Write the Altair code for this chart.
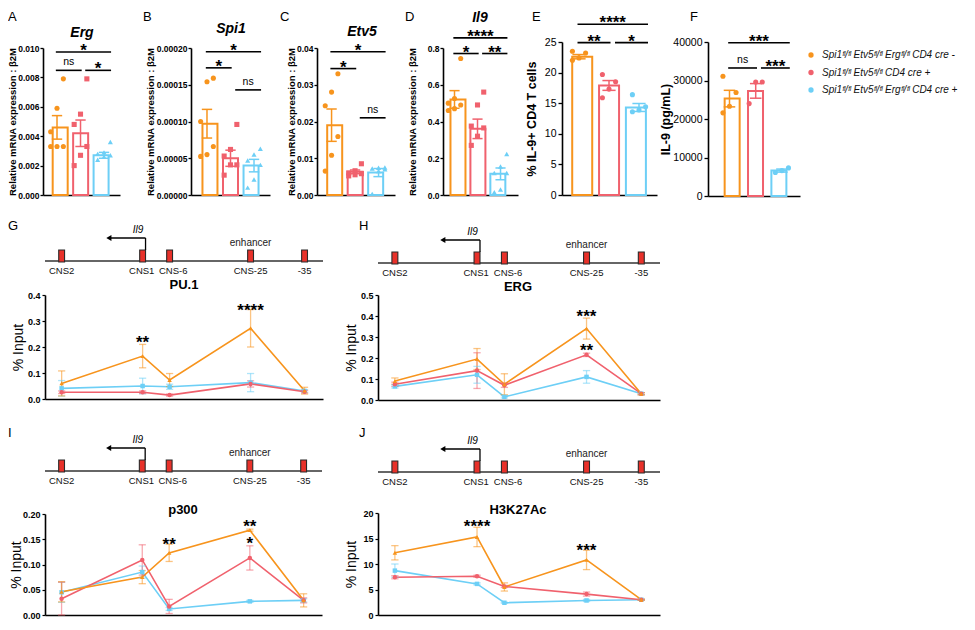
import altair as alt
import pandas as pd

# ----------------------------- data -----------------------------
GROUPS = ["ctl", "dko", "tko"]
COLORS = ["#F7941D", "#F0616D", "#6DCFF6"]
SUP = "ᶠˡ/ᶠˡ"
LEGEND_LABELS = [
    f"Spi1{SUP} Etv5{SUP} Erg{SUP} CD4 cre -",
    f"Spi1{SUP} Etv5{SUP} CD4 cre +",
    f"Spi1{SUP} Etv5{SUP} Erg{SUP} CD4 cre +",
]

YT_REL = "Relative mRNA expression : β2M"
YT_E = "% IL-9+ CD4 T cells"
YT_F = "IL-9 (pg/mL)"
YT_LINE = "% Input"

# A  Erg
ERG_CTL = [0.0079, 0.0059, 0.0043, 0.0033, 0.0033, 0.0033]
ERG_DKO = [0.0079, 0.0055, 0.0048, 0.0033, 0.0027, 0.0020]
ERG_TKO = [0.0036, 0.0029, 0.0028, 0.0027, 0.0026, 0.0024]
ERG_MEAN = [0.0046, 0.0042, 0.0027]
ERG_SEM = [0.0008, 0.0009, 0.0002]
ERG_BR = [(1, 2, 0.00848, "ns"), (2, 3, 0.00848, "*"), (1, 3, 0.00973, "*")]
# B  Spi1
SPI_CTL = [1.59e-4, 1.54e-4, 1.00e-4, 6.6e-5, 5.5e-5, 5.25e-5]
SPI_DKO = [9.6e-5, 6.2e-5, 5.3e-5, 4.1e-5, 4.1e-5, 2.7e-5]
SPI_TKO = [6.3e-5, 5.5e-5, 4.7e-5, 4.1e-5, 2.1e-5, 1.0e-5]
SPI_MEAN = [9.7e-5, 5.0e-5, 4.0e-5]
SPI_SEM = [1.95e-5, 1.1e-5, 0.85e-5]
SPI_BR = [(1, 2, 1.73e-4, "*"), (2, 3, 1.43e-4, "ns"), (1, 3, 1.95e-4, "*")]
# C  Etv5
ETV_CTL = [0.033, 0.028, 0.0243, 0.0159, 0.0108, 0.0065]
ETV_DKO = [0.0085, 0.0066, 0.0060, 0.0058, 0.0055, 0.0052]
ETV_TKO = [0.0075, 0.0074, 0.0072, 0.0070, 0.0065, 0.0003]
ETV_MEAN = [0.019, 0.0063, 0.0061]
ETV_SEM = [0.0044, 0.0005, 0.0011]
ETV_BR = [(1, 2, 0.0344, "*"), (2, 3, 0.021, "ns"), (1, 3, 0.039, "*")]
# D  Il9
IL9_CTL = [0.743, 0.525, 0.50, 0.49, 0.47, 0.46]
IL9_DKO = [0.56, 0.49, 0.375, 0.365, 0.32, 0.27]
IL9_TKO = [0.223, 0.155, 0.12, 0.12, 0.03, 0.015]
IL9_MEAN = [0.52, 0.36, 0.115]
IL9_SEM = [0.048, 0.053, 0.032]
IL9_BR = [(1, 2, 0.77, "*"), (2, 3, 0.77, "**"), (1, 3, 0.855, "****")]
# E  % IL-9+ CD4 T cells
PCT_CTL = [23.5, 23.2, 22.4, 22.0]
PCT_DKO = [19.7, 18.5, 17.3, 15.9]
PCT_TKO = [16.4, 14.4, 13.9, 13.6]
PCT_MEAN = [22.6, 17.9, 14.3]
PCT_SEM = [0.35, 0.8, 0.65]
PCT_BR = [(1, 2, 24.9, "**"), (2, 3, 24.9, "*"), (1, 3, 27.9, "****")]
# F  IL-9 (pg/mL)
PG_CTL = [31100, 26900, 23300, 21600]
PG_DKO = [29600, 29600, 24000]
PG_TKO = [7300, 6600, 6100]
PG_MEAN = [25300, 27300, 6600]
PG_SEM = [2150, 1900, 400]
PG_BR = [(1, 2, 33250, "ns"), (2, 3, 33250, "***"), (1, 3, 39800, "***")]

# ChIP panels
LOCI = ["CNS2", "CNS1", "CNS-6", "CNS-25", "-35"]
LOCUS_KB = [-18, 0, 6, 24, 36]

PU1_CTL = [0.060, 0.165, 0.073, 0.272, 0.032]
PU1_CTL_SEM = [0.048, 0.045, 0.025, 0.072, 0.013]
PU1_DKO = [0.026, 0.026, 0.015, 0.058, 0.028]
PU1_DKO_SEM = [0.005, 0.005, 0.004, 0.012, 0.005]
PU1_TKO = [0.041, 0.050, 0.047, 0.063, 0.031]
PU1_TKO_SEM = [0.030, 0.030, 0.010, 0.035, 0.005]
PU1_STARS = [(1, 0.235, "**"), (3, 0.358, "****")]

ERGC_CTL = [0.090, 0.195, 0.075, 0.340, 0.030]
ERGC_CTL_SEM = [0.015, 0.050, 0.050, 0.050, 0.005]
ERGC_DKO = [0.075, 0.140, 0.070, 0.215, 0.030]
ERGC_DKO_SEM = [0.010, 0.085, 0.010, 0.008, 0.005]
ERGC_TKO = [0.065, 0.120, 0.015, 0.110, 0.030]
ERGC_TKO_SEM = [0.008, 0.040, 0.005, 0.030, 0.005]
ERGC_STARS = [(3, 0.42, "***"), (3, 0.257, "**")]

P300_CTL = [0.046, 0.075, 0.123, 0.168, 0.029]
P300_CTL_SEM = [0.020, 0.013, 0.017, 0.002, 0.013]
P300_DKO = [0.032, 0.109, 0.017, 0.113, 0.029]
P300_DKO_SEM = [0.033, 0.030, 0.014, 0.024, 0.005]
P300_TKO = [0.045, 0.085, 0.012, 0.027, 0.029]
P300_TKO_SEM = [0.020, 0.012, 0.003, 0.002, 0.003]
P300_STARS = [(2, 0.148, "**"), (3, 0.185, "**"), (3, 0.150, "*")]

K27_CTL = [12.2, 15.3, 5.5, 10.8, 3.0]
K27_CTL_SEM = [1.4, 1.9, 0.8, 1.9, 0.1]
K27_DKO = [7.4, 7.6, 5.6, 4.1, 3.0]
K27_DKO_SEM = [0.3, 0.2, 0.2, 0.4, 0.1]
K27_TKO = [8.7, 6.1, 2.4, 2.85, 3.0]
K27_TKO_SEM = [1.3, 0.2, 0.1, 0.2, 0.1]
K27_STARS = [(1, 18.3, "****"), (3, 13.6, "***")]

# ----------------------------- style / layout -----------------------------
W, H = 959, 612
M = 8


def X(p):
    return p - M


def Y(p):
    return p - M


FONT = "'Liberation Sans', Arial, Helvetica, sans-serif"
COLOR = alt.Color("group:N", scale=alt.Scale(domain=GROUPS, range=COLORS), legend=None)
JIT = [-1, 0, 1]
LABEL_SHIFT = {"CNS1": -0.2, "CNS-6": 0.8}  # small horizontal nudges of locus labels (kb)

BAR_LAYOUT = {
    "A": dict(x0=43, x1=120, ytop=48, ybot=195, xdom=(0.404, 3.68), bw=15, jit=0.27, tX=-26, letter=(8, 17), gene=(82, 33), small=True),
    "B": dict(x0=191, x1=270, ytop=48, ybot=195, xdom=(0.32, 3.68), bw=15, jit=0.27, tX=-36, letter=(143, 17), gene=(231, 29), small=True),
    "C": dict(x0=317, x1=395, ytop=48, ybot=195, xdom=(0.38, 3.70), bw=15, jit=0.27, tX=-21, letter=(280, 17), gene=(362, 32), small=True),
    "D": dict(x0=443, x1=518, ytop=48, ybot=195, xdom=(0.50, 3.76), bw=15, jit=0.27, tX=-26, letter=(405, 17), gene=(480, 18), small=True),
    "E": dict(x0=562, x1=657, ytop=42, ybot=195, xdom=(0.433, 3.6), bw=20, jit=0.22, tX=-24, letter=(532, 17), gene=None, small=False),
    "F": dict(x0=708, x1=800, ytop=42, ybot=196, xdom=(0.18, 3.69), bw=15, jit=0.25, tX=-36, letter=(690, 17), gene=None, small=False),
}

LINE_XDOM = (-21.7, 40.1)
LINE_LAYOUT = {
    "G": dict(x0=45, x1=323, ytop=295, ybot=399, dy=0, tX=-20, letter=(8, 226), title=(184, 285)),
    "H": dict(x0=378, x1=660, ytop=295, ybot=400, dy=2, tX=-20, letter=(359, 226), title=(518, 287)),
    "I": dict(x0=45, x1=322, ytop=514, ybot=615, dy=210, tX=-22, letter=(8, 433), title=(183, 510)),
    "J": dict(x0=378, x1=660, ytop=513, ybot=615, dy=211, tX=-20, letter=(359, 433), title=(518, 510)),
}


def text_chart(txt, x, y, **kw):
    return alt.Chart(pd.DataFrame({"t": [txt]})).mark_text(**kw).encode(
        text="t:N", x=alt.value(X(x)), y=alt.value(Y(y))
    )


def bar_panel(key, gene, ytitle, ymax, ticks, fmt, pts_lists, means, sems, brackets, shapes):
    L = BAR_LAYOUT[key]
    rows = []
    for gi, (g, vals) in enumerate(zip(GROUPS, pts_lists), start=1):
        order = sorted(range(len(vals)), key=lambda k: vals[k])
        for rank, k in enumerate(order):
            rows.append(dict(group=g, gx=gi + JIT[rank % 3] * L["jit"], value=vals[k]))
    pts = pd.DataFrame(rows)
    stats = pd.DataFrame(dict(group=GROUPS, gx=[1, 2, 3], mean=means, sem=sems))
    stats["lo"] = stats["mean"] - stats["sem"]
    stats["hi"] = stats["mean"] + stats["sem"]
    caps = []
    for _, r in stats.iterrows():
        for v in (r["lo"], r["hi"]):
            caps.append(dict(group=r["group"], xa=r["gx"] - 0.22, xb=r["gx"] + 0.22, yv=v))
    caps = pd.DataFrame(caps)
    br = []
    for a, b, yv, lab in brackets:
        if a == 1 and b == 3:
            x1, x2 = a - 0.05, b + 0.3
        elif a == 1:
            x1, x2 = a - 0.05, b + 0.05
        else:
            x1, x2 = a + 0.2, b + 0.3
        br.append(dict(x1=x1, x2=x2, xm=(x1 + x2) / 2, y=yv, label=lab))
    br = pd.DataFrame(br)

    xsc = alt.Scale(domain=list(L["xdom"]), range=[X(L["x0"]), X(L["x1"])], nice=False, zero=False)
    ysc = alt.Scale(domain=[0, ymax], range=[Y(L["ybot"]), Y(L["ytop"])], nice=False, zero=True)
    xax = alt.Axis(orient="bottom", offset=Y(L["ybot"]) - H, labels=False, ticks=False, title=None,
                   domainWidth=1.6, domainColor="black")
    if L["small"]:
        lab = dict(labelFont=FONT, labelFontSize=8.5, labelFontWeight="bold", tickSize=3, labelPadding=1,
                   titleFont=FONT, titleFontSize=9.5, titleFontWeight="bold")
    else:
        lab = dict(labelFont=FONT, labelFontSize=10.5, labelFontWeight="normal", tickSize=4, labelPadding=2,
                   titleFont=FONT, titleFontSize=12.5, titleFontWeight="bold")
    yax = alt.Axis(orient="left", offset=-X(L["x0"]), values=ticks, format=fmt, title=ytitle,
                   titleX=L["tX"], titleBaseline="bottom", tickWidth=1.3, domainWidth=1.6,
                   labelOverlap=False, domainColor="black", tickColor="black", **lab)

    XE = lambda f: alt.X(f, scale=xsc, axis=None)
    YE = lambda f: alt.Y(f, scale=ysc, axis=None)
    bars = alt.Chart(stats).mark_bar(orient="vertical", size=L["bw"], filled=False, strokeWidth=2).encode(
        x=alt.X("gx:Q", scale=xsc, axis=xax), y=alt.Y("mean:Q", scale=ysc, axis=yax), color=COLOR)
    dots = alt.Chart(pts).mark_point(filled=True, size=26, opacity=1).encode(
        x=XE("gx:Q"), y=YE("value:Q"), color=COLOR,
        shape=alt.Shape("group:N", scale=alt.Scale(domain=GROUPS, range=shapes), legend=None))
    err = alt.Chart(stats).mark_rule(strokeWidth=1.5).encode(x=XE("gx:Q"), y=YE("lo:Q"), y2="hi:Q", color=COLOR)
    cap = alt.Chart(caps).mark_rule(strokeWidth=1.5).encode(x=XE("xa:Q"), x2="xb:Q", y=YE("yv:Q"), color=COLOR)
    brl = alt.Chart(br).mark_rule(strokeWidth=1.6, color="black").encode(x=XE("x1:Q"), x2="x2:Q", y=YE("y:Q"))
    stars = alt.Chart(br).transform_filter(alt.datum.label != "ns").mark_text(
        font=FONT, fontSize=17, fontWeight="bold", baseline="alphabetic", dy=4, color="black").encode(
        x=XE("xm:Q"), y=YE("y:Q"), text="label:N")
    ns = alt.Chart(br).transform_filter(alt.datum.label == "ns").mark_text(
        font=FONT, fontSize=10.5, baseline="bottom", dy=-3, color="black").encode(
        x=XE("xm:Q"), y=YE("y:Q"), text="label:N")
    out = [bars, dots, err, cap, brl, stars, ns]
    out.append(text_chart(key, L["letter"][0], L["letter"][1], font=FONT, fontSize=13, align="left", baseline="middle"))
    if gene:
        out.append(text_chart(gene, L["gene"][0], L["gene"][1], font=FONT, fontSize=14, fontWeight="bold",
                              fontStyle="italic", align="center", baseline="middle"))
    return out


def line_panel(key, title, ymax, ticks, fmt, vals, sems, stars):
    L = LINE_LAYOUT[key]
    dy = L["dy"]
    rows = []
    # tko first, ctl last so that the orange series is drawn on top
    for g, vv, ss in reversed(list(zip(GROUPS, vals, sems))):
        for name, pos, v, s in zip(LOCI, LOCUS_KB, vv, ss):
            rows.append(dict(group=g, locus=name, pos=pos, val=v, lo=max(v - s, 0), hi=v + s,
                             xa=pos - 0.8, xb=pos + 0.8))
    df = pd.DataFrame(rows)
    caps = pd.concat([df.assign(yv=df["lo"]), df.assign(yv=df["hi"])])
    st = pd.DataFrame([dict(pos=LOCUS_KB[i], y=y, label=lab) for i, y, lab in stars])
    loci = pd.DataFrame(dict(locus=LOCI, pos=LOCUS_KB))
    loci["xa"] = loci["pos"] - 0.65
    loci["xb"] = loci["pos"] + 0.65
    loci["lx"] = [p + LABEL_SHIFT.get(n, 0) for n, p in zip(LOCI, LOCUS_KB)]
    tss = LOCUS_KB[LOCI.index("CNS1")]
    arrow = pd.DataFrame(dict(xa=[tss - 7.5], xb=[tss + 0.65], il9=["Il9"], xl=[tss - 1]))
    enh = pd.DataFrame(dict(t=["enhancer"], pos=[LOCUS_KB[LOCI.index("CNS-25")]]))
    base = pd.DataFrame(dict(xa=[LINE_XDOM[0]], xb=[LINE_XDOM[1]]))

    xsc = alt.Scale(domain=list(LINE_XDOM), range=[X(L["x0"]), X(L["x1"])], nice=False, zero=False)
    ysc = alt.Scale(domain=[0, ymax], range=[Y(L["ybot"]), Y(L["ytop"])], nice=False, zero=True)
    xax = alt.Axis(orient="bottom", offset=Y(L["ybot"]) - H, labels=False, ticks=False, title=None,
                   domainWidth=1.6, domainColor="black")
    yax = alt.Axis(orient="left", offset=-X(L["x0"]), values=ticks, format=fmt, title=YT_LINE,
                   titleX=L["tX"], titleBaseline="bottom", titleFont=FONT, titleFontSize=14,
                   titleFontWeight="normal", labelFont=FONT, labelFontSize=9, labelFontWeight="bold",
                   tickSize=3, tickWidth=1.2, domainWidth=1.6, labelPadding=2, labelOverlap=False,
                   domainColor="black", tickColor="black")
    XE = lambda f: alt.X(f, scale=xsc, axis=None)
    YE = lambda f: alt.Y(f, scale=ysc, axis=None)

    lines = alt.Chart(df).mark_line(strokeWidth=1.6).encode(
        x=alt.X("pos:Q", scale=xsc, axis=xax), y=alt.Y("val:Q", scale=ysc, axis=yax), color=COLOR,
        order="pos:Q")
    err = alt.Chart(df).mark_rule(strokeWidth=1.3, opacity=0.55).encode(x=XE("pos:Q"), y=YE("lo:Q"), y2="hi:Q", color=COLOR)
    cap = alt.Chart(caps).mark_rule(strokeWidth=1.3, opacity=0.55).encode(x=XE("xa:Q"), x2="xb:Q", y=YE("yv:Q"), color=COLOR)
    dots = alt.Chart(df).mark_point(filled=True, size=20, opacity=1).encode(
        x=XE("pos:Q"), y=YE("val:Q"), color=COLOR,
        shape=alt.Shape("group:N", scale=alt.Scale(domain=GROUPS, range=["triangle-up", "circle", "square"]), legend=None))
    stx = alt.Chart(st).mark_text(font=FONT, fontSize=17, fontWeight="bold", baseline="alphabetic", dy=10,
                                   color="black").encode(x=XE("pos:Q"), y=YE("y:Q"), text="label:N")
    # locus diagram
    bl = alt.Chart(base).mark_rule(strokeWidth=1.5, color="#333").encode(
        x=XE("xa:Q"), x2="xb:Q", y=alt.value(Y(261 + dy)))
    boxes = alt.Chart(loci).mark_rect(fill="#E8312A", stroke="#2a2a2a", strokeWidth=1.1).encode(
        x=XE("xa:Q"), x2="xb:Q", y=alt.value(Y(250 + dy)), y2=alt.value(Y(262 + dy)))
    llab = alt.Chart(loci).mark_text(font=FONT, fontSize=9.5, baseline="middle", color="#111").encode(
        x=XE("lx:Q"), y=alt.value(Y(271 + dy)), text="locus:N")
    av = alt.Chart(arrow).mark_rule(strokeWidth=1.3, color="black").encode(
        x=XE("xb:Q"), y=alt.value(Y(238 + dy)), y2=alt.value(Y(250 + dy)))
    ah = alt.Chart(arrow).mark_rule(strokeWidth=1.3, color="black").encode(
        x=XE("xa:Q"), x2="xb:Q", y=alt.value(Y(238 + dy)))
    head = alt.Chart(arrow).mark_point(shape="triangle-left", filled=True, size=35, color="black", opacity=1).encode(
        x=XE("xa:Q"), y=alt.value(Y(238 + dy)))
    il9 = alt.Chart(arrow).mark_text(font=FONT, fontSize=10, fontStyle="italic", baseline="middle").encode(
        x=XE("xl:Q"), y=alt.value(Y(230 + dy)), text="il9:N")
    en = alt.Chart(enh).mark_text(font=FONT, fontSize=10, baseline="middle", color="#222").encode(
        x=XE("pos:Q"), y=alt.value(Y(243 + dy)), text="t:N")

    out = [lines, err, cap, dots, stx, bl, boxes, llab, av, ah, head, il9, en]
    out.append(text_chart(key, L["letter"][0], L["letter"][1], font=FONT, fontSize=13, align="left", baseline="middle"))
    out.append(text_chart(title, L["title"][0], L["title"][1], font=FONT, fontSize=13, fontWeight="bold",
                          align="center", baseline="middle"))
    return out


SH3 = ["circle", "square", "triangle-up"]
SH1 = ["circle", "circle", "circle"]
layers = []
layers += bar_panel("A", "Erg", YT_REL, 0.010, [0, 0.002, 0.004, 0.006, 0.008, 0.010], ".3f",
                    [ERG_CTL, ERG_DKO, ERG_TKO], ERG_MEAN, ERG_SEM, ERG_BR, SH3)
layers += bar_panel("B", "Spi1", YT_REL, 0.0002, [0, 0.00005, 0.0001, 0.00015, 0.0002], ".5f",
                    [SPI_CTL, SPI_DKO, SPI_TKO], SPI_MEAN, SPI_SEM, SPI_BR, SH3)
layers += bar_panel("C", "Etv5", YT_REL, 0.04, [0, 0.01, 0.02, 0.03, 0.04], ".2f",
                    [ETV_CTL, ETV_DKO, ETV_TKO], ETV_MEAN, ETV_SEM, ETV_BR, SH3)
layers += bar_panel("D", "Il9", YT_REL, 0.8, [0, 0.2, 0.4, 0.6, 0.8], ".1f",
                    [IL9_CTL, IL9_DKO, IL9_TKO], IL9_MEAN, IL9_SEM, IL9_BR, SH3)
layers += bar_panel("E", None, YT_E, 25, [0, 5, 10, 15, 20, 25], "d",
                    [PCT_CTL, PCT_DKO, PCT_TKO], PCT_MEAN, PCT_SEM, PCT_BR, SH1)
layers += bar_panel("F", None, YT_F, 40000, [0, 10000, 20000, 30000, 40000], "d",
                    [PG_CTL, PG_DKO, PG_TKO], PG_MEAN, PG_SEM, PG_BR, SH1)

layers += line_panel("G", "PU.1", 0.4, [0, 0.1, 0.2, 0.3, 0.4], ".1f",
                     [PU1_CTL, PU1_DKO, PU1_TKO], [PU1_CTL_SEM, PU1_DKO_SEM, PU1_TKO_SEM], PU1_STARS)
layers += line_panel("H", "ERG", 0.5, [0, 0.1, 0.2, 0.3, 0.4, 0.5], ".1f",
                     [ERGC_CTL, ERGC_DKO, ERGC_TKO], [ERGC_CTL_SEM, ERGC_DKO_SEM, ERGC_TKO_SEM], ERGC_STARS)
layers += line_panel("I", "p300", 0.2, [0, 0.05, 0.10, 0.15, 0.20], ".2f",
                     [P300_CTL, P300_DKO, P300_TKO], [P300_CTL_SEM, P300_DKO_SEM, P300_TKO_SEM], P300_STARS)
layers += line_panel("J", "H3K27Ac", 20, [0, 5, 10, 15, 20], "d",
                     [K27_CTL, K27_DKO, K27_TKO], [K27_CTL_SEM, K27_DKO_SEM, K27_TKO_SEM], K27_STARS)

# legend
leg = pd.DataFrame(dict(group=GROUPS, label=LEGEND_LABELS))
lsc = alt.Scale(type="point", domain=GROUPS, range=[Y(55), Y(90)], padding=0)
leg_dots = alt.Chart(leg).mark_point(filled=True, size=28, opacity=1).encode(
    x=alt.value(X(811)), y=alt.Y("group:N", scale=lsc, axis=None), color=COLOR)
leg_text = alt.Chart(leg).mark_text(font=FONT, fontSize=10, fontStyle="italic", align="left",
                                    baseline="middle", color="#111").encode(
    x=alt.value(X(822)), y=alt.Y("group:N", scale=lsc, axis=None), text="label:N")
layers += [leg_dots, leg_text]

chart = alt.layer(*layers).resolve_scale(
    x="independent", y="independent", shape="independent"
).properties(
    width=W, height=H, padding=0, autosize=alt.AutoSizeParams(type="none")
).configure_view(stroke=None).configure_axis(grid=False, labelColor="black", titleColor="black")

chart.save("out.html", embed_options={"renderer": "svg", "actions": False})
